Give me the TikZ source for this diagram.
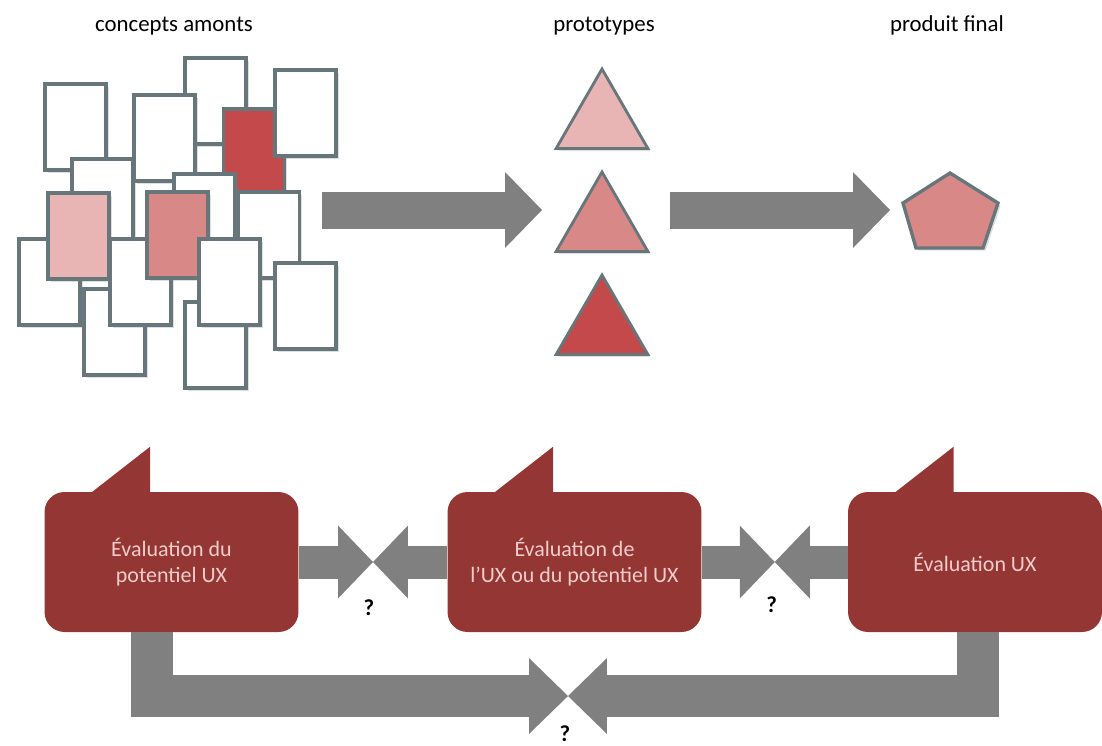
\documentclass[tikz,border=0pt]{standalone}
\usepackage{fontspec}
\setmainfont{Carlito}
\usetikzlibrary{calc,shapes.geometric,shadows,arrows.meta}

\definecolor{cardline}{HTML}{66767A}
\definecolor{rose}{HTML}{E8B4B4}
\definecolor{salmon}{HTML}{D98888}
\definecolor{brick}{HTML}{C4494A}
\definecolor{wine}{HTML}{943634}
\definecolor{pale}{HTML}{F2CCCA}
\definecolor{flow}{HTML}{808080}

\tikzset{
  soft/.style={drop shadow={shadow xshift=1.5pt,shadow yshift=-1.5pt,opacity=0.25}},
  card/.style={rectangle,draw=cardline,line width=2pt,fill=white,
    minimum width=1.22cm,minimum height=1.72cm,inner sep=0pt,soft},
  proto/.style={regular polygon,regular polygon sides=3,draw=cardline,
    line width=1.6pt,minimum size=2.12cm,inner sep=0pt,soft},
  final/.style={draw=cardline,line width=1.9pt,fill=salmon,soft},
  evalbox/.style={rectangle,rounded corners=0.4cm,fill=wine,text=pale,
    minimum width=5.08cm,minimum height=2.8cm,align=center,
    font=\fontsize{12.5}{15}\selectfont},
  title/.style={anchor=base,font=\fontsize{13}{15}\selectfont},
  qmark/.style={font=\fontsize{13}{15}\selectfont\bfseries},
  bigflow/.style={draw=flow,line width=0.74cm,
    -{Triangle[length=0.74cm,width=1.52cm,line width=0pt]}},
  midflow/.style={draw=flow,line width=0.66cm,
    -{Triangle[length=0.70cm,width=1.46cm,line width=0pt]}},
  loopflow/.style={draw=flow,line width=0.84cm,
    -{Triangle[length=0.78cm,width=1.52cm,line width=0pt]}}
}

\begin{document}
\begin{tikzpicture}[x=0.02cm,y=-0.02cm]
  \useasboundingbox (0,0) rectangle (1102,745);

  % titles
  \node[title] (t1) at (174,31) {concepts amonts};
  \node[title] (t2) at (604,31) {prototypes};
  \node[title] (t3) at (947,31) {produit final};

  % pile of concept cards, back to front
  \foreach \x/\y/\c [count=\i] in {215.5/101/white,75.5/127/white,164.5/138/white,
      254/152/brick,305.5/113/white,102.5/202/white,204.5/217/white,269/235/white,
      114.5/332/white,215.5/345/white,49.5/282/white,140.5/282/white,
      78.5/236/rose,177.5/235/salmon,229.5/282/white,305.5/306/white}
    \node[card,fill=\c] (k\i) at (\x,\y) {};

  % prototypes
  \node[proto,fill=rose] (p1) at (602,122) {};
  \node[proto,fill=salmon] (p2) at (602,225) {};
  \node[proto,fill=brick] (p3) at (602,328) {};

  % final product
  \path
  (950,173) coordinate (f0)
  (998,203) coordinate (f1)
  (983,248) coordinate (f2)
  (916,248) coordinate (f3)
  (903,203) coordinate (f4);
  \draw[final] (f0) -- (f1) -- (f2) -- (f3) -- (f4) -- cycle;

  % top flows
  \coordinate (pile) at (322,210);
  \draw[bigflow] (pile) -- ($(p2.center)+(-60,-15)$);
  \draw[bigflow] ($(p2.center)+(68,-15)$) -- ($(f4)+(-13,7)$);

  % evaluation boxes
  \node[evalbox] (b1) at (171.5,562) {Évaluation du\\potentiel UX};
  \node[evalbox] (b2) at (574.5,562) {Évaluation de\\l’UX ou du potentiel UX};
  \node[evalbox] (b3) at (975,562) {Évaluation UX};
  \foreach \b in {b1,b2,b3}
    \fill[wine] ($(\b.north west)+(47,1)$) -- ($(\b.north west)+(106,-45)$)
      -- ($(\b.north west)+(106,1)$) -- cycle;

  % flows between the boxes
  \coordinate (q1) at ($(b1.east)!0.5!(b2.west)$);
  \coordinate (q2) at ($(b2.east)!0.5!(b3.west)$);
  \coordinate (q3) at (568,696);
  \draw[midflow] (b1.east) -- (q1);
  \draw[midflow] (b2.west) -- (q1);
  \draw[midflow] (b2.east) -- (q2);
  \draw[midflow] (b3.west) -- (q2);
  \draw[loopflow] ($(b1.south west)+(108,0)$) |- (q3);
  \draw[loopflow] ($(b3.south west)+(130,0)$) |- (q3);

  \node[qmark] (x1) at ($(q1)+(-4,46)$) {?};
  \node[qmark] (x2) at ($(q2)+(-3,43)$) {?};
  \node[qmark] (x3) at ($(q3)+(-3,38)$) {?};
\end{tikzpicture}
\end{document}
